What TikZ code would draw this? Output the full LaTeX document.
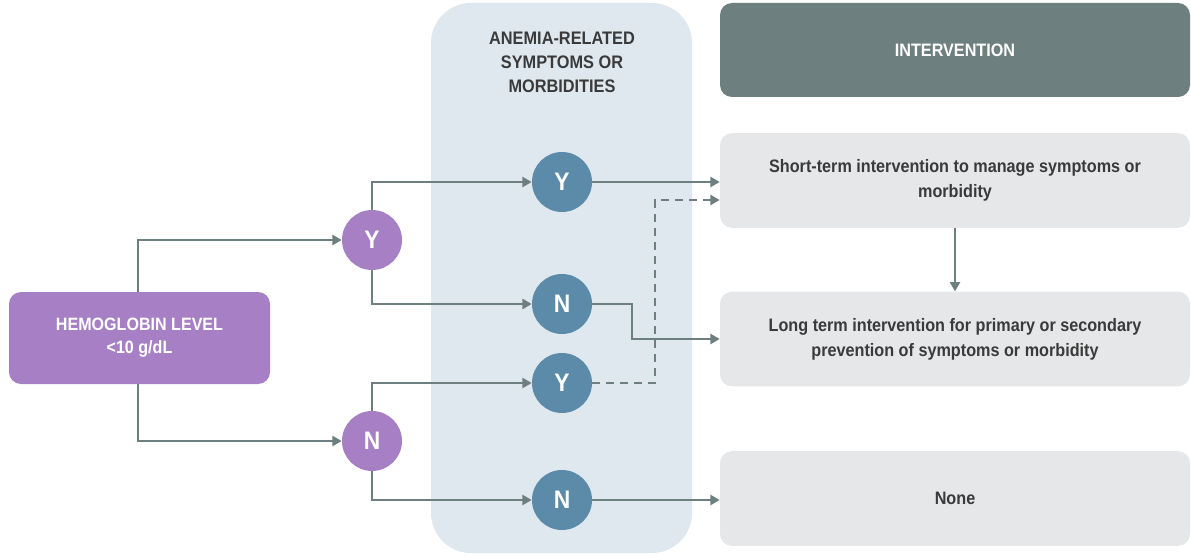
\documentclass[tikz,border=0pt]{standalone}
\usepackage{fontspec}
\setmainfont[FakeStretch=0.9]{Liberation Sans}
\usetikzlibrary{arrows.meta,calc}
\definecolor{purp}{HTML}{A67FC4}
\definecolor{panel}{HTML}{DFE8EE}
\definecolor{head}{HTML}{6E7F80}
\definecolor{lgray}{HTML}{E6E7E8}
\definecolor{bcirc}{HTML}{5B8BA8}
\definecolor{linec}{HTML}{6E7F80}
\definecolor{txt}{HTML}{3A3A3A}
\tikzset{
  conn/.style={draw=linec, line width=2.2pt, -{Triangle[length=7pt,width=7.5pt]}},
  dconn/.style={conn, dash pattern=on 6pt off 4.5pt},
  pcirc/.style={circle, fill=purp, minimum size=45pt, inner sep=0pt, text=white, font=\bfseries\fontsize{19}{21}\selectfont},
  bcircle/.style={circle, fill=bcirc, minimum size=45pt, inner sep=0pt, text=white, font=\bfseries\fontsize{19}{21}\selectfont},
  ibox/.style={rounded corners=9pt, fill=lgray, minimum width=352.5pt, minimum height=71pt, inner sep=0pt, align=center, text=txt, font=\bfseries\fontsize{13.5}{18.75}\selectfont},
}
\begin{document}
\begin{tikzpicture}[x=0.75pt,y=-0.75pt]
\useasboundingbox (0,0) rectangle (1191,556);
% panel
\node[rounded corners=30pt, fill=panel, minimum width=195.75pt, minimum height=412.5pt, inner sep=0pt] (panel) at (561.5,278) {};
\node[align=center, text=txt, font=\bfseries\fontsize{13.6}{18}\selectfont] (ptitle) at (562,62) {ANEMIA-RELATED\\SYMPTOMS OR\\MORBIDITIES};
% hemoglobin box
\node[rounded corners=9pt, fill=purp, minimum width=195.75pt, minimum height=69pt, inner sep=0pt, align=center, text=white, font=\bfseries\fontsize{13.4}{17.25}\selectfont] (hb) at (139.5,338) {HEMOGLOBIN LEVEL\\<10 g/dL};
% intervention header
\node[rounded corners=9pt, fill=head, minimum width=352.5pt, minimum height=70.5pt, inner sep=0pt, text=white, font=\bfseries\fontsize{13.5}{15}\selectfont] (hd) at (955,50) {INTERVENTION};
\node[ibox] (st) at (955,180.5) {Short-term intervention to manage symptoms or\\morbidity};
\node[ibox] (lt) at (955,339) {Long term intervention for primary or secondary\\prevention of symptoms or morbidity};
\node[ibox] (no) at (955,498.5) {None};
% circles
\node[pcirc] (py) at (372,240) {Y};
\node[pcirc] (pn) at (372,441) {N};
\node[bcircle] (by1) at (562,182) {Y};
\node[bcircle] (bn1) at (562,304) {N};
\node[bcircle] (by2) at (562,383) {Y};
\node[bcircle] (bn2) at (562,500) {N};
% connectors
\draw[conn] (hb.north -| 138,0) |- (py.west);
\draw[conn] (hb.south -| 138,0) |- (pn.west);
\draw[conn] (py.north) |- (by1.west);
\draw[conn] (py.south) |- (bn1.west);
\draw[conn] (pn.north) |- (by2.west);
\draw[conn] (pn.south) |- (bn2.west);
\draw[conn] (by1.east) -- (st.west |- by1.east);
\draw[conn] (bn1.east) -- (632,304) |- (lt.west);
\coordinate (dtop) at (655,200);
\draw[dconn] (by2.east) -| (dtop) -- (st.west |- dtop);
\draw[conn] (bn2.east) -- (no.west |- bn2.east);
\draw[conn] (st.south) -- (lt.north);
\end{tikzpicture}
\end{document}
